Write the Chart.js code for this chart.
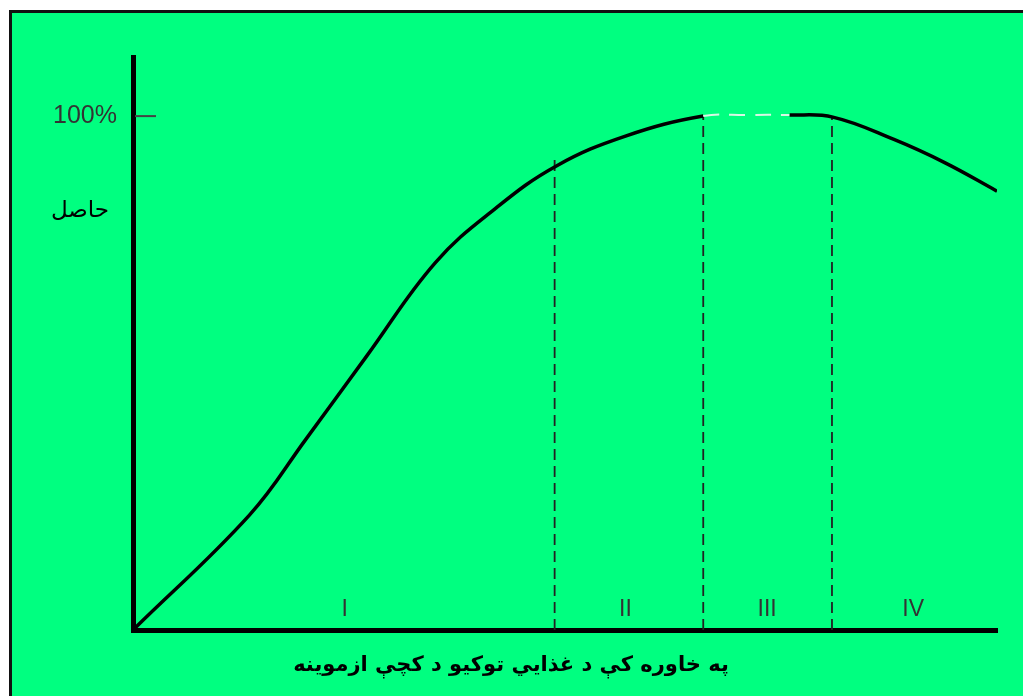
<!DOCTYPE html>
<html>
<head>
<meta charset="utf-8">
<script src="https://cdn.jsdelivr.net/npm/chart.js@4.4.0/dist/chart.umd.min.js"></script>
<style>
  html, body { margin: 0; padding: 0; background: #fff; overflow: hidden; }
  #wrap { position: absolute; left: 0; top: 0; width: 1023px; height: 696px; }
</style>
</head>
<body>
<div id="wrap"><canvas id="yieldChart" width="1023" height="696"></canvas></div>
<script>
// منحني - د حاصل کچه (x: د غذايي توکیو کچه، y: سلنه)
const curveX = [0, 13.5, 20, 27, 35, 42, 49, 57, 66, 71, 76, 81, 88, 94, 100];
const curveY = [0, 22.4, 37.1, 53.2, 71.5, 82.1, 90.3, 96.1, 100, 100.2, 100.2, 99.8, 95.5, 90.9, 85.4];

// د پړاوونو پولې (dashed lines)
const phaseX = [48.8, 66, 80.9];
const phaseTop = [92.6, 100, 99.8];

// د پړاوونو نومونه
const phaseLabels = ['I', 'II', 'III', 'IV'];
const phaseLabelX = [24.5, 57, 73.4, 90.3];

const yTicks = [100];
const yTickLabels = ['100%'];
const yTitle = 'حاصل';
const xTitle = 'په خاوره کې د غذايي توکيو د کچې ازموينه';

// flat part (region III) drawn light dashed
const flatFrom = 66, flatTo = 76;
const inFlat = ctx => ctx.p0.parsed.x >= flatFrom && ctx.p1.parsed.x <= flatTo;

const datasets = [{
  data: curveX.map((x, i) => ({ x: x, y: curveY[i] })),
  borderColor: '#000',
  borderWidth: 3.5,
  pointRadius: 0,
  tension: 0.4,
  segment: {
    borderColor: ctx => inFlat(ctx) ? '#d9f7e4' : undefined,
    borderDash: ctx => inFlat(ctx) ? [16, 10] : undefined,
    borderWidth: ctx => inFlat(ctx) ? 2 : undefined
  }
}];

phaseX.forEach((x, i) => {
  datasets.push({
    data: [{ x: x, y: 0 }, { x: x, y: phaseTop[i] }],
    borderColor: '#222',
    borderWidth: 1.8,
    borderDash: [11, 6],
    pointRadius: 0
  });
});

const extras = {
  id: 'extras',
  beforeDraw(chart) {
    // green panel with black top/left frame
    const ctx = chart.ctx;
    ctx.save();
    ctx.fillStyle = '#fff';
    ctx.fillRect(0, 0, chart.width, chart.height);
    ctx.fillStyle = '#00ff80';
    ctx.fillRect(9, 10, chart.width, chart.height);
    ctx.fillStyle = '#111';
    ctx.fillRect(9, 10, chart.width, 3);
    ctx.fillRect(9, 10, 3, chart.height);
    ctx.restore();
  },
  afterDatasetsDraw(chart) {
    const ctx = chart.ctx;
    const xs = chart.scales.x, ys = chart.scales.y;
    ctx.save();
    // inner tick at 100%
    ctx.strokeStyle = '#444';
    ctx.lineWidth = 2;
    yTicks.forEach(v => {
      const py = ys.getPixelForValue(v);
      ctx.beginPath();
      ctx.moveTo(xs.getPixelForValue(0) + 2, py);
      ctx.lineTo(xs.getPixelForValue(0) + 23, py);
      ctx.stroke();
    });
    // phase numerals
    ctx.fillStyle = '#333';
    ctx.font = '23px "Liberation Sans", Arial, sans-serif';
    ctx.textAlign = 'center';
    ctx.textBaseline = 'middle';
    phaseLabels.forEach((t, i) => {
      ctx.fillText(t, xs.getPixelForValue(phaseLabelX[i]), ys.getPixelForValue(3.9));
    });
    // y axis title
    ctx.fillStyle = '#000';
    ctx.font = '23px "DejaVu Sans", sans-serif';
    ctx.fillText(yTitle, 80, ys.getPixelForValue(81.5));
    // x axis title
    ctx.font = 'bold 21px "DejaVu Sans", sans-serif';
    ctx.fillText(xTitle, 511, 666);
    ctx.restore();
  }
};

new Chart(document.getElementById('yieldChart'), {
  type: 'line',
  data: { datasets: datasets },
  options: {
    responsive: false,
    animation: false,
    layout: { padding: { left: 0, top: 57, right: 26, bottom: 56 } },
    plugins: {
      legend: { display: false },
      tooltip: { enabled: false },
      title: { display: false }
    },
    scales: {
      x: {
        type: 'linear',
        min: 0,
        max: 100,
        ticks: { display: false },
        grid: { display: true, drawOnChartArea: false, drawTicks: false },
        border: { display: true, color: '#000', width: 5 },
        afterFit: s => { s.height = 10; }
      },
      y: {
        min: 0,
        max: 111.5,
        afterBuildTicks: s => { s.ticks = yTicks.map(v => ({ value: v })); },
        ticks: {
          callback: (v, i) => yTickLabels[i],
          color: '#333',
          padding: 16,
          font: { family: '"Liberation Sans", Arial, sans-serif', size: 25 }
        },
        grid: { display: true, drawOnChartArea: false, drawTicks: false },
        border: { display: true, color: '#000', width: 5 },
        afterFit: s => { s.width = 133; }
      }
    }
  },
  plugins: [extras]
});
</script>
</body>
</html>
